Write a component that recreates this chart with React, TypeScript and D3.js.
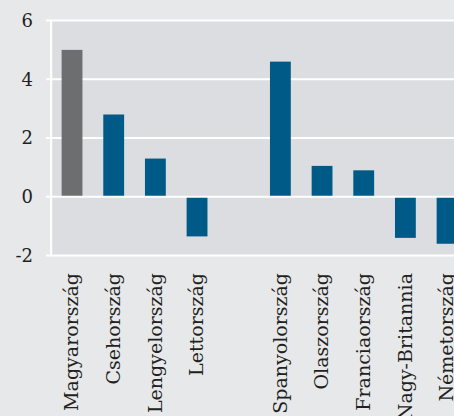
import React from "react";
import * as d3 from "d3";

const categories = ["Magyarország", "Csehország", "Lengyelország", "Lettország", "", "Spanyolország", "Olaszország", "Franciaország", "Nagy-Britannia", "Németország"];
const values = [5.0, 2.8, 1.3, -1.35, null, 4.6, 1.05, 0.9, -1.4, -1.6];
const highlight = ["Magyarország"];
const yTicks = [-2, 0, 2, 4, 6];

const W = 454;
const H = 416;
const left = 51.2;
const top = 20.5;
const bottom = 255.5;

export default function App() {
  const x = d3.scaleBand<string>()
    .domain(categories.map((c, i) => c || `gap${i}`))
    .range([left, left + 416.7])
    .paddingInner(0.5)
    .paddingOuter(0.25);
  const y = d3.scaleLinear().domain([-2, 6]).range([bottom, top]);
  const keys = x.domain();
  const font = "'DejaVu Serif', serif";
  return (
    <svg width={W} height={H} style={{ position: "absolute", left: 0, top: 0 }}>
      <rect x={0} y={0} width={W} height={H} fill="#e7e8ea" />
      <rect x={left} y={top} width={W - left} height={bottom - top} fill="#dcdde0" />
      {yTicks.filter((t) => t !== 0).map((t) => (
        <line key={t} x1={left} x2={W} y1={y(t)} y2={y(t)} stroke="#ffffff" strokeWidth={2} />
      ))}
      {values.map((v, i) =>
        v === null ? null : (
          <rect
            key={i}
            x={x(keys[i])}
            width={x.bandwidth()}
            y={y(Math.max(0, v))}
            height={Math.abs(y(v) - y(0))}
            fill={highlight.includes(categories[i]) ? "#6d6e70" : "#005a87"}
          />
        )
      )}
      <line x1={left} x2={W} y1={y(0)} y2={y(0)} stroke="#ffffff" strokeWidth={2} />
      <line x1={left} x2={left} y1={top - 1} y2={bottom + 1} stroke="#ffffff" strokeWidth={2} />
      {yTicks.map((t) => (
        <g key={t}>
          <line x1={46} x2={left} y1={y(t)} y2={y(t)} stroke="#ffffff" strokeWidth={2} />
          <text x={33} y={y(t)} dy="0.36em" textAnchor="end" fontFamily={font} fontSize={18} fill="#231f20">
            {t}
          </text>
        </g>
      ))}
      {categories.map((c, i) =>
        c ? (
          <text
            key={c}
            transform={`translate(${(x(keys[i]) as number) + x.bandwidth() / 2},273) rotate(-90)`}
            dy="0.33em"
            textAnchor="end"
            fontFamily={font}
            fontSize={19}
            fill="#231f20"
          >
            {c}
          </text>
        ) : null
      )}
    </svg>
  );
}
